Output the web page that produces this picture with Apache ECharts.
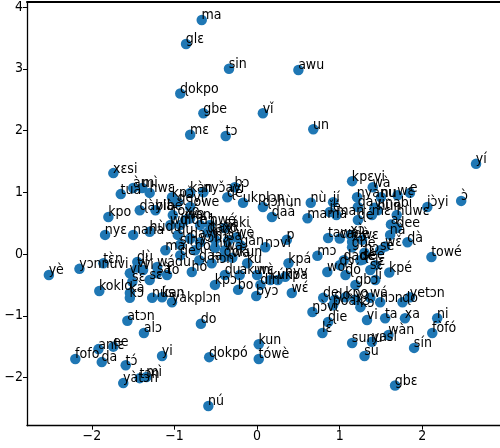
<!DOCTYPE html>
<html><head><meta charset="utf-8">
<style>html,body{margin:0;padding:0;background:#fff}#c{width:500px;height:448px}</style>
<script src="https://cdn.jsdelivr.net/npm/echarts@6/dist/echarts.min.js"></script>
</head><body><div id="c"></div>
<script>
const words = ["ma","glɛ","sin","awu","ɖokpo","gbe","vǐ","un","mɛ","tɔ",
"xɛsi","tuà","àu","mì","hwɛ","kpɔ̌","ɖàylà","kpo","bibè","nyɛ","nana","hùɖu","wlí","ɖevi","kàn","nyɔ̌ayi","bɔ","ɖe","ukplɔn","lowe","wan","tóxó","sáki","ɖaá","ɖɔhùn","ɖaxó","wè",
"yè","yɔnnuvi","tɛ̀n","koklo","vi","ɖù","kɔ","sɛ","wádu","ɖè","to","hó","ɖàa","yàkplɔn","kan","nús","ví","sà","kà","ɖayi","mà","yɔ̀hɔ̌","ɖu","wá","sà","nǔ","wa","hɔn",
"kpá","kpɔ","ku","wɛ̀","bo","byɔ","akun","dìn","vkpa","nyv","wɛ́","nɔvi","p","ɖokun","gǎn",
"kpɛvi","wà","nù","jí","ǰé","mama","man","nyànu","vinabi","wɛ","ɖa","tawe","ɖé","mɛ","hùn","dee","ɖà","a","xɔ","hùwɛ","yí","ɔ̀","jɔ̀yi","e","towé","nu",
"mɔ","wo","gbé","ɖadě","sɛ́","lǐ","ɖɔ","nɔ","wɛ̌","cadè","sèe","kpé",
"ŋɔ̀vi","ɖie","lɛ́","vi","ta","xa","ni","fòfó","wàn","sín","sunu","yasi","sù","gbɛ","hɔn","ɖo","yetɔn","kɔ","poàkɔ","ɖe",
"atɔn","alɔ","yi","anlɛ","ee","fofo","ɖa","tɔ́","yàtɔn","mì","tɔn","do","ɖokpó","kun","tówè","nú",
"vɔ","hɔ̀","ɖayi","mɔ́","sín","ɖò","hwé","ɖiɖé","xɔ̀","wɛ","sè","nà","ɖó","gbɔ","ɖé","lɛ","ɖo","kpo","yɔ","wá","vi","sɛ","ɖu","kún"];
const xs = [-0.67,-0.86,-0.34,0.50,-0.93,-0.65,0.07,0.68,-0.81,-0.38,
-1.74,-1.65,-1.50,-1.39,-1.30,-1.03,-1.42,-1.80,-1.23,-1.84,-1.50,-1.30,-1.05,-0.96,-0.81,-0.65,-0.27,-0.36,-0.17,-0.81,-0.87,-1.02,-0.39,0.18,0.07,-0.60,-0.25,
-2.52,-2.15,-1.86,-1.91,-1.54,-1.45,-1.54,-1.51,-1.21,-0.93,-1.09,-0.79,-0.70,-1.03,-1.15,-1.27,-1.45,-1.21,-1.54,-0.81,-1.11,-0.69,-0.96,-0.30,-0.35,-0.51,-0.39,-0.55,
0.38,-0.51,-0.12,0,-0.23,-0.01,-0.21,0.04,0.25,0.34,0.42,0.10,0.36,-0.40,-0.20,
1.15,1.40,0.65,0.92,0.88,0.61,0.96,1.21,1.42,1.70,1.22,0.86,1.22,1.39,1.46,1.69,1.82,1.62,1.15,1.69,2.65,2.47,2.06,1.85,2.11,1.50,
0.73,0.85,1.15,1.05,1.37,1.43,1.00,1.30,1.55,1.00,1.28,1.60,
0.67,0.86,0.79,1.33,1.55,1.79,2.18,2.12,1.59,1.90,1.15,1.39,1.30,1.67,1.49,1.76,1.85,1.25,0.92,0.80,
-1.57,-1.37,-1.15,-1.92,-1.74,-2.20,-1.88,-1.59,-1.62,-1.34,-1.42,-0.68,-0.58,0.02,0.02,-0.59,
-0.81,-0.69,-0.57,-0.51,-0.93,-0.75,-0.57,-0.93,1.13,1.27,1.49,1.61,1.07,1.19,1.25,1.43,0.94,1.07,1.19,1.37,-1.38,-1.30,-0.39,0.16];
const ys = [3.79,3.40,3.00,2.98,2.60,2.28,2.28,2.02,1.93,1.91,
1.31,0.97,1.07,1.07,0.99,0.92,0.71,0.60,0.71,0.31,0.31,0.36,0.47,0.84,0.99,1.00,1.08,0.92,0.83,0.76,0.55,0.63,0.42,0.60,0.76,0.35,0.27,
-0.34,-0.24,-0.15,-0.60,-0.31,-0.13,-0.71,-0.45,-0.21,-0.02,-0.34,-0.29,-0.10,-0.78,-0.70,-0.71,-0.22,-0.31,-0.63,0.25,0.06,0.19,0.31,-0.06,0.22,0.10,0.06,-0.15,
-0.15,-0.50,-0.15,-0.34,-0.58,-0.68,-0.34,-0.50,-0.42,-0.37,-0.63,0.11,0.23,-0.05,0.14,
1.18,1.08,0.83,0.84,0.68,0.58,0.63,0.92,0.75,0.95,0.76,0.26,0.55,0.63,0.71,0.42,0.19,0.48,0.20,0.63,1.46,0.86,0.76,0.99,-0.05,0.92,
-0.03,-0.29,0.11,-0.10,-0.26,-0.42,-0.18,0.02,0.12,0.25,-0.09,-0.30,
-0.94,-1.10,-1.28,-1.07,-1.04,-1.04,-1.04,-1.28,-1.31,-1.52,-1.44,-1.42,-1.65,-2.13,-0.78,-0.78,-0.70,-0.86,-0.83,-0.71,
-1.08,-1.28,-1.65,-1.54,-1.50,-1.70,-1.75,-1.80,-2.09,-1.99,-2.01,-1.13,-1.67,-1.46,-1.70,-2.46,
0.58,0.47,0.36,0.23,0.15,0.06,0.47,0.47,0.31,0.23,0.06,0.31,-0.34,-0.50,-0.10,-0.18,-0.74,-0.70,-0.74,-0.71,-0.26,-0.42,-0.34,-0.42];
const xTicks = [-2,-1,0,1,2];
const yTicks = [-2,-1,0,1,2,3,4];
const points = xs.map((x,i)=>({name:words[i],value:[x,ys[i]]}));
const fmt = v => String(v).replace('-','\u2212');
const FONT = '"DejaVu Sans Condensed","DejaVu Sans"';
function axis(ticks,min,max){return {type:'value',min,max,splitLine:{show:false},
 axisLine:{show:true,onZero:false,lineStyle:{color:'#000',width:1.3}},
 axisTick:{show:true,length:4,customValues:ticks,lineStyle:{color:'#000',width:1}},
 axisLabel:{customValues:ticks,formatter:fmt,color:'#000',fontFamily:FONT,fontSize:14,margin:4,hideOverlap:false,showMinLabel:true,showMaxLabel:true}};}
const chart = echarts.init(document.getElementById('c'),null,{renderer:'canvas'});
chart.setOption({animation:false,backgroundColor:'#fff',
 grid:{left:27,top:2,right:0,height:423.7,show:false},
 xAxis:[axis(xTicks,-2.785,2.94),
  {type:'value',position:'top',min:-2.785,max:2.94,splitLine:{show:false},axisTick:{show:false},axisLabel:{show:false},axisLine:{show:true,onZero:false,lineStyle:{color:'#000',width:2}}}],
 yAxis:axis(yTicks,-2.78,4.08),
 series:[{type:'scatter',data:points,symbolSize:10.5,itemStyle:{color:'#1f77b4',opacity:1},clip:false,
  label:{show:true,position:[5,8],align:'left',verticalAlign:'bottom',formatter:p=>p.name,color:'#000',fontFamily:FONT,fontSize:14},
  labelLayout:{hideOverlap:false},emphasis:{disabled:true}}]});
</script></body></html>
